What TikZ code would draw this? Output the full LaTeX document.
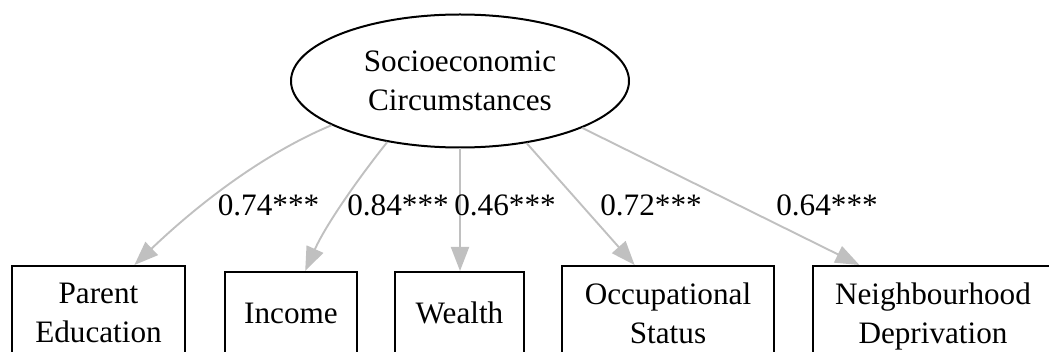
\documentclass[tikz,border=0pt]{standalone}
\usepackage{fontspec}
\setmainfont{Liberation Serif}
\newfontfamily\diagfont{Liberation Serif}
\usetikzlibrary{shapes.geometric,arrows.meta,calc}
\definecolor{edgegray}{HTML}{C0C0C0}
\begin{document}
\begin{tikzpicture}[x=0.5pt,y=-0.5pt,
  every node/.style={font=\diagfont\fontsize{15.6}{19.5}\selectfont},
  latent/.style={ellipse,draw,line width=1pt,minimum width=169pt,minimum height=66.5pt,inner sep=0pt,align=center},
  obs/.style={rectangle,draw,line width=1pt,inner sep=0pt,align=center},
  load/.style={draw=edgegray,line width=0.95pt,-{Triangle[length=12pt,width=9pt]}},
  lbl/.style={inner sep=0pt}]
\useasboundingbox (0,0) rectangle (1049,352);
\clip (0,0) rectangle (1049,352);

\node[latent] (sec) at (460,81) {Socioeconomic\\Circumstances};

\node[obs,minimum width=86.5pt,minimum height=47pt] (pe) at (98.5,313) {Parent\\Education};
\node[obs,minimum width=66pt,minimum height=41pt] (inc) at (291,313) {Income};
\node[obs,minimum width=64.5pt,minimum height=41pt] (wea) at (459.5,313) {Wealth};
\node[obs,minimum width=106pt,minimum height=47pt] (occ) at (668,313) {Occupational\\Status};
\node[obs,minimum width=120pt,minimum height=47pt] (nei) at (933,313) {Neighbourhood\\\smash{Deprivation}};

\draw[load] (sec.199.4) .. controls (258,156) and (192,210) .. ($(pe.north west)!0.705!(pe.north east)$);
\draw[load] (sec.220.3) .. controls (357,180) and (325.5,225.5) .. ($(inc.north west)!0.606!(inc.north east)$);
\draw[load] (sec.south) -- (sec.south |- wea.north);
\draw[load] (sec.317.6) -- ($(occ.north west)!0.344!(occ.north east)$);
\draw[load] (sec.339) -- ($(nei.north west)!0.196!(nei.north east)$);

\node[lbl] (l1) at (268.5,205.5) {0.74***};
\node[lbl] (l2) at (398,205.5) {0.84***};
\node[lbl] (l3) at (505,205.5) {0.46***};
\node[lbl] (l4) at (651,205.5) {0.72***};
\node[lbl] (l5) at (827,205.5) {0.64***};
\end{tikzpicture}
\end{document}
